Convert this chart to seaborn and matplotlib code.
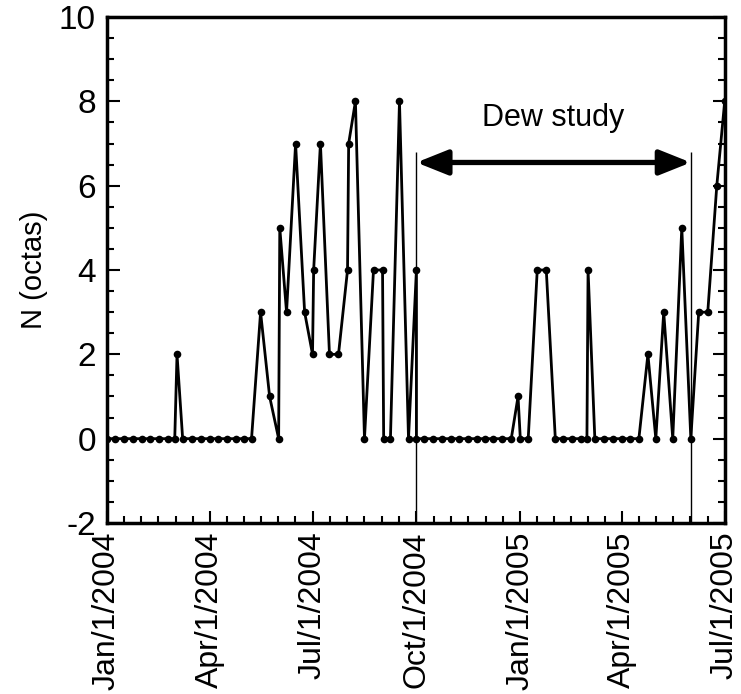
import matplotlib
matplotlib.use("Agg")
import matplotlib.pyplot as plt
import matplotlib.dates as mdates
import numpy as np
import pandas as pd
import seaborn as sns

# Cloud cover observations (octas), sampled on the 1st, 8th, 16th and 24th of each month
obs_dates = [
    "2004-01-01", "2004-01-08", "2004-01-16", "2004-01-24",
    "2004-02-01", "2004-02-08", "2004-02-16", "2004-02-24",
    "2004-03-01", "2004-03-03", "2004-03-08", "2004-03-16", "2004-03-24",
    "2004-04-01", "2004-04-08", "2004-04-16", "2004-04-24",
    "2004-05-01", "2004-05-08", "2004-05-16", "2004-05-24",
    "2004-06-01", "2004-06-02", "2004-06-08", "2004-06-16", "2004-06-24",
    "2004-07-01", "2004-07-02", "2004-07-08", "2004-07-16", "2004-07-24",
    "2004-08-01", "2004-08-02", "2004-08-08", "2004-08-16", "2004-08-24",
    "2004-09-01", "2004-09-02", "2004-09-08", "2004-09-16", "2004-09-24",
    "2004-10-01", "2004-10-01", "2004-10-08", "2004-10-16", "2004-10-24",
    "2004-11-01", "2004-11-08", "2004-11-16", "2004-11-24",
    "2004-12-01", "2004-12-08", "2004-12-16", "2004-12-24", "2004-12-30",
    "2005-01-01", "2005-01-08", "2005-01-16", "2005-01-24",
    "2005-02-01", "2005-02-08", "2005-02-16", "2005-02-24",
    "2005-03-01", "2005-03-02", "2005-03-08", "2005-03-16", "2005-03-24",
    "2005-04-01", "2005-04-08", "2005-04-16", "2005-04-24",
    "2005-05-01", "2005-05-08", "2005-05-16", "2005-05-24",
    "2005-06-01", "2005-06-08", "2005-06-16", "2005-06-24",
    "2005-07-01",
]
cloud_octas = [
    0, 0, 0, 0,
    0, 0, 0, 0,
    0, 2, 0, 0, 0,
    0, 0, 0, 0,
    0, 0, 3, 1,
    0, 5, 3, 7, 3,
    2, 4, 7, 2, 2,
    4, 7, 8, 0, 4,
    4, 0, 0, 8, 0,
    4, 0, 0, 0, 0,
    0, 0, 0, 0,
    0, 0, 0, 0, 1,
    0, 0, 4, 4,
    0, 0, 0, 0,
    0, 4, 0, 0, 0,
    0, 0, 0, 2,
    0, 3, 0, 5,
    0, 3, 3, 6,
    8,
]

tick_dates = ["2004-01-01", "2004-04-01", "2004-07-01", "2004-10-01",
              "2005-01-01", "2005-04-01", "2005-07-01"]
tick_labels = ["Jan/1/2004", "Apr/1/2004", "Jul/1/2004", "Oct/1/2004",
               "Jan/1/2005", "Apr/1/2005", "Jul/1/2005"]

study_start = "2004-10-01"
study_end = "2005-06-01"
study_label = "Dew study"

sns.set_style("ticks")
plt.rcParams["font.family"] = ["Liberation Sans", "DejaVu Sans"]
plt.rcParams["axes.unicode_minus"] = False
for key in ("text.color", "axes.labelcolor", "xtick.color", "ytick.color"):
    plt.rcParams[key] = "black"

fig = plt.figure(figsize=(7.41, 6.94), dpi=100)
ax = fig.add_axes([0.1444, 0.2464, 0.8336, 0.7291])

df = pd.DataFrame({"date": pd.to_datetime(obs_dates), "N": cloud_octas})
sns.lineplot(data=df, x="date", y="N", estimator=None, sort=False,
             color="black", linewidth=2.0, marker="o", markersize=5.5,
             markeredgewidth=0, ax=ax)

# Study period markers
t0 = pd.Timestamp(study_start)
t1 = pd.Timestamp(study_end)
ax.vlines([t0, t1], -2, 6.8, color="black", linewidth=1.0, zorder=1)
ax.annotate("", xy=(t1, 6.55), xytext=(t0, 6.55),
            arrowprops=dict(arrowstyle="<|-|>,head_length=0.95,head_width=0.38",
                            mutation_scale=20, lw=3.8, color="black",
                            shrinkA=0, shrinkB=0))
ax.text(t0 + (t1 - t0) / 2, 7.6, study_label, ha="center", va="center",
        fontsize=22)

# Axes limits and ticks
major = mdates.date2num(pd.to_datetime(tick_dates))
ax.set_xlim(major[0], major[-1])
ax.set_ylim(-2, 10)
ax.set_xticks(major)
ax.set_xticklabels(tick_labels, rotation=90, fontsize=23)
minor = np.concatenate([np.linspace(a, b, 7)[1:-1] for a, b in zip(major[:-1], major[1:])])
ax.set_xticks(minor, minor=True)
ax.set_yticks(np.arange(-2, 11, 2))
ax.set_yticks(np.arange(-2, 10.01, 0.5), minor=True)

ax.tick_params(which="both", direction="in", width=1.5, color="black",
               left=True, right=True, bottom=True, top=False)
ax.tick_params(which="major", length=9)
ax.tick_params(which="minor", length=5)
ax.tick_params(axis="x", which="major", pad=6)
ax.tick_params(axis="y", which="major", pad=8, labelsize=24)

for s in ax.spines.values():
    s.set_linewidth(2.5)
    s.set_color("black")

ax.set_xlabel("")
ax.set_ylabel("N (octas)", fontsize=21, labelpad=8)

fig.savefig("out.png", dpi=100)
